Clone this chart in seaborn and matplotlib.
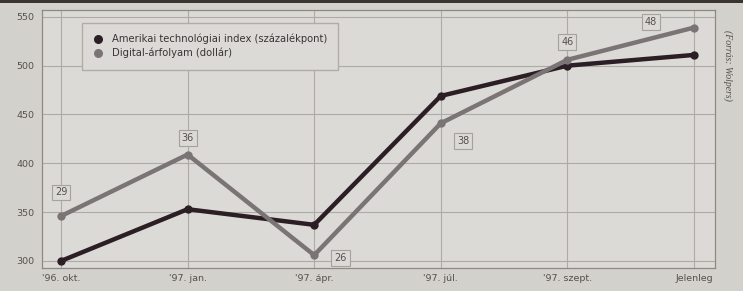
import numpy as np
import pandas as pd
import matplotlib
matplotlib.use("Agg")
import matplotlib.pyplot as plt
import seaborn as sns

# data
periods = ["'96. okt.", "'97. jan.", "'97. ápr.", "'97. júl.", "'97. szept.", "Jelenleg"]
tech_index = [300, 353, 337, 469, 500, 511]
digital_price = [346, 409, 306, 441, 506, 539]
digital_labels = ["29", "36", "26", "38", "46", "48"]
series_names = ["Amerikai technológiai index (százalékpont)", "Digital-árfolyam (dollár)"]

df = pd.DataFrame({
    "pos": list(range(len(periods))) * 2,
    "value": tech_index + digital_price,
    "series": [series_names[0]] * len(periods) + [series_names[1]] * len(periods),
})

sns.set_style("whitegrid")
plt.rcParams["font.family"] = ["DejaVu Sans"]

bg = "#d3d1cc"
plot_bg = "#dcdad6"
grid_c = "#aeaba6"
dark = "#2b1f25"
grey = "#7b7475"

fig = plt.figure(figsize=(7.43, 2.91), dpi=100)
fig.patch.set_facecolor(bg)
ax = fig.add_axes([42 / 743, 1 - 268 / 291, (715 - 42) / 743, (268 - 10) / 291])
ax.set_facecolor(plot_bg)

sns.lineplot(data=df, x="pos", y="value", hue="series",
             palette=[dark, grey], linewidth=3.2, marker="o", markersize=6,
             markeredgewidth=0, ax=ax)

ax.set_xlim(-0.15, 5.166)
ax.set_ylim(292.8, 557)
ax.set_xticks(range(len(periods)))
ax.set_xticklabels(periods, fontsize=6.8, color="#555050")
ax.set_yticks([300, 350, 400, 450, 500, 550])
ax.tick_params(axis="y", labelsize=6.8, labelcolor="#555050", pad=2)
ax.tick_params(axis="x", pad=1)
ax.set_xlabel("")
ax.set_ylabel("")
ax.grid(True, color=grid_c, linewidth=0.8)
for s in ax.spines.values():
    s.set_color("#8d8a86")
    s.set_linewidth(0.9)

# boxed labels on the grey series
offsets = [(0, 17), (0, 12), (19, -2), (16, -13), (0, 13), (-31, 4)]
for i, (lab, (dx, dy)) in enumerate(zip(digital_labels, offsets)):
    ax.annotate(lab, (i, digital_price[i]), xytext=(dx, dy), textcoords="offset points",
                ha="center", va="center", fontsize=7, color="#555050",
                bbox=dict(boxstyle="square,pad=0.3", fc=plot_bg, ec="#a5a29d", lw=0.8))

leg = ax.legend(loc="upper left", bbox_to_anchor=(43 / 673, 1 - 16 / 258),
                fontsize=7.2, frameon=True, handlelength=1.0, borderpad=0.8,
                labelspacing=0.35, handletextpad=0.9, borderaxespad=0)
leg.get_frame().set_facecolor(plot_bg)
leg.get_frame().set_edgecolor("#b0ada8")
leg.get_frame().set_alpha(1)
leg.get_frame().set_boxstyle("square")
for h in leg.legend_handles:
    h.set_linestyle("")
    h.set_markersize(6.5)
for t in leg.get_texts():
    t.set_color("#3a3535")

fig.text(728 / 743, 1 - 65 / 291, "(Forrás: Wolpers)", rotation=270, ha="center",
         va="center", fontsize=7, style="italic", family="Liberation Serif", color="#555050")

# dark top edge of the scanned page
fig.add_artist(plt.Rectangle((0, 1 - 3 / 291), 1, 3 / 291, transform=fig.transFigure,
                             color="#3a3530", lw=0))

fig.savefig("out.png", dpi=100, facecolor=bg)
